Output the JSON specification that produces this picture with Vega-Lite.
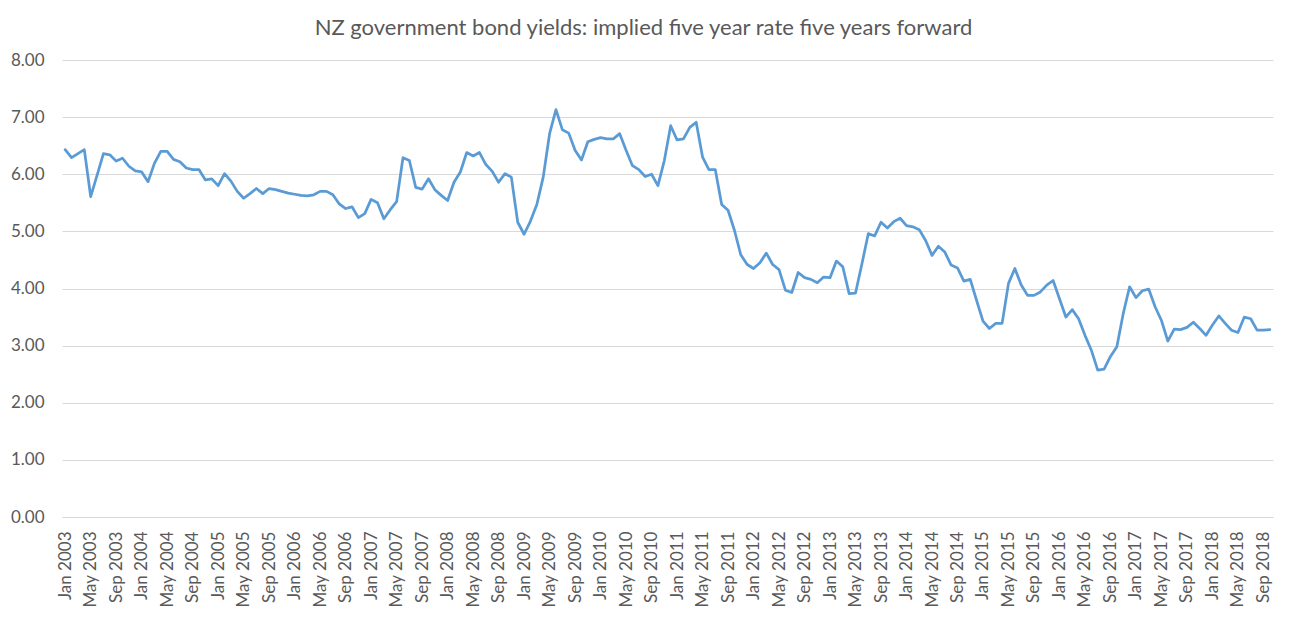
{
  "$schema": "https://vega.github.io/schema/vega-lite/v6.json",
  "width": 1211,
  "height": 457,
  "autosize": {"type": "none"},
  "padding": {"left": 62, "top": 60, "right": 16, "bottom": 106},
  "background": "white",
  "title": {
    "text": "NZ government bond yields: implied five year rate five years forward",
    "font": "Lato",
    "fontSize": 22,
    "fontWeight": "normal",
    "color": "#595959",
    "anchor": "middle",
    "dx": -24,
    "offset": 11
  },
  "data": {
    "values": [
      {"m":"Jan 2003","v":6.43},{"m":"Feb 2003","v":6.29},{"m":"Mar 2003","v":6.36},{"m":"Apr 2003","v":6.43},{"m":"May 2003","v":5.61},{"m":"Jun 2003","v":5.98},{"m":"Jul 2003","v":6.36},{"m":"Aug 2003","v":6.34},{"m":"Sep 2003","v":6.23},{"m":"Oct 2003","v":6.28},{"m":"Nov 2003","v":6.14},{"m":"Dec 2003","v":6.06},
      {"m":"Jan 2004","v":6.04},{"m":"Feb 2004","v":5.87},{"m":"Mar 2004","v":6.19},{"m":"Apr 2004","v":6.40},{"m":"May 2004","v":6.40},{"m":"Jun 2004","v":6.26},{"m":"Jul 2004","v":6.22},{"m":"Aug 2004","v":6.11},{"m":"Sep 2004","v":6.08},{"m":"Oct 2004","v":6.08},{"m":"Nov 2004","v":5.90},{"m":"Dec 2004","v":5.92},
      {"m":"Jan 2005","v":5.80},{"m":"Feb 2005","v":6.01},{"m":"Mar 2005","v":5.88},{"m":"Apr 2005","v":5.70},{"m":"May 2005","v":5.58},{"m":"Jun 2005","v":5.66},{"m":"Jul 2005","v":5.75},{"m":"Aug 2005","v":5.66},{"m":"Sep 2005","v":5.75},{"m":"Oct 2005","v":5.73},{"m":"Nov 2005","v":5.70},{"m":"Dec 2005","v":5.67},
      {"m":"Jan 2006","v":5.65},{"m":"Feb 2006","v":5.63},{"m":"Mar 2006","v":5.62},{"m":"Apr 2006","v":5.64},{"m":"May 2006","v":5.70},{"m":"Jun 2006","v":5.70},{"m":"Jul 2006","v":5.64},{"m":"Aug 2006","v":5.48},{"m":"Sep 2006","v":5.40},{"m":"Oct 2006","v":5.43},{"m":"Nov 2006","v":5.24},{"m":"Dec 2006","v":5.31},
      {"m":"Jan 2007","v":5.56},{"m":"Feb 2007","v":5.50},{"m":"Mar 2007","v":5.22},{"m":"Apr 2007","v":5.38},{"m":"May 2007","v":5.52},{"m":"Jun 2007","v":6.29},{"m":"Jul 2007","v":6.24},{"m":"Aug 2007","v":5.77},{"m":"Sep 2007","v":5.74},{"m":"Oct 2007","v":5.92},{"m":"Nov 2007","v":5.73},{"m":"Dec 2007","v":5.63},
      {"m":"Jan 2008","v":5.54},{"m":"Feb 2008","v":5.86},{"m":"Mar 2008","v":6.04},{"m":"Apr 2008","v":6.38},{"m":"May 2008","v":6.32},{"m":"Jun 2008","v":6.38},{"m":"Jul 2008","v":6.17},{"m":"Aug 2008","v":6.05},{"m":"Sep 2008","v":5.86},{"m":"Oct 2008","v":6.01},{"m":"Nov 2008","v":5.95},{"m":"Dec 2008","v":5.16},
      {"m":"Jan 2009","v":4.95},{"m":"Feb 2009","v":5.18},{"m":"Mar 2009","v":5.47},{"m":"Apr 2009","v":5.95},{"m":"May 2009","v":6.71},{"m":"Jun 2009","v":7.13},{"m":"Jul 2009","v":6.78},{"m":"Aug 2009","v":6.72},{"m":"Sep 2009","v":6.42},{"m":"Oct 2009","v":6.25},{"m":"Nov 2009","v":6.57},{"m":"Dec 2009","v":6.61},
      {"m":"Jan 2010","v":6.64},{"m":"Feb 2010","v":6.62},{"m":"Mar 2010","v":6.62},{"m":"Apr 2010","v":6.71},{"m":"May 2010","v":6.42},{"m":"Jun 2010","v":6.15},{"m":"Jul 2010","v":6.08},{"m":"Aug 2010","v":5.96},{"m":"Sep 2010","v":6.00},{"m":"Oct 2010","v":5.80},{"m":"Nov 2010","v":6.24},{"m":"Dec 2010","v":6.85},
      {"m":"Jan 2011","v":6.60},{"m":"Feb 2011","v":6.62},{"m":"Mar 2011","v":6.82},{"m":"Apr 2011","v":6.91},{"m":"May 2011","v":6.30},{"m":"Jun 2011","v":6.08},{"m":"Jul 2011","v":6.08},{"m":"Aug 2011","v":5.47},{"m":"Sep 2011","v":5.37},{"m":"Oct 2011","v":5.02},{"m":"Nov 2011","v":4.59},{"m":"Dec 2011","v":4.42},
      {"m":"Jan 2012","v":4.35},{"m":"Feb 2012","v":4.45},{"m":"Mar 2012","v":4.62},{"m":"Apr 2012","v":4.42},{"m":"May 2012","v":4.33},{"m":"Jun 2012","v":3.97},{"m":"Jul 2012","v":3.93},{"m":"Aug 2012","v":4.28},{"m":"Sep 2012","v":4.19},{"m":"Oct 2012","v":4.16},{"m":"Nov 2012","v":4.10},{"m":"Dec 2012","v":4.20},
      {"m":"Jan 2013","v":4.19},{"m":"Feb 2013","v":4.48},{"m":"Mar 2013","v":4.38},{"m":"Apr 2013","v":3.91},{"m":"May 2013","v":3.92},{"m":"Jun 2013","v":4.43},{"m":"Jul 2013","v":4.96},{"m":"Aug 2013","v":4.92},{"m":"Sep 2013","v":5.16},{"m":"Oct 2013","v":5.06},{"m":"Nov 2013","v":5.17},{"m":"Dec 2013","v":5.23},
      {"m":"Jan 2014","v":5.10},{"m":"Feb 2014","v":5.08},{"m":"Mar 2014","v":5.03},{"m":"Apr 2014","v":4.84},{"m":"May 2014","v":4.58},{"m":"Jun 2014","v":4.74},{"m":"Jul 2014","v":4.64},{"m":"Aug 2014","v":4.41},{"m":"Sep 2014","v":4.36},{"m":"Oct 2014","v":4.13},{"m":"Nov 2014","v":4.16},{"m":"Dec 2014","v":3.79},
      {"m":"Jan 2015","v":3.43},{"m":"Feb 2015","v":3.30},{"m":"Mar 2015","v":3.39},{"m":"Apr 2015","v":3.39},{"m":"May 2015","v":4.09},{"m":"Jun 2015","v":4.35},{"m":"Jul 2015","v":4.06},{"m":"Aug 2015","v":3.88},{"m":"Sep 2015","v":3.88},{"m":"Oct 2015","v":3.94},{"m":"Nov 2015","v":4.06},{"m":"Dec 2015","v":4.14},
      {"m":"Jan 2016","v":3.82},{"m":"Feb 2016","v":3.50},{"m":"Mar 2016","v":3.63},{"m":"Apr 2016","v":3.47},{"m":"May 2016","v":3.18},{"m":"Jun 2016","v":2.92},{"m":"Jul 2016","v":2.57},{"m":"Aug 2016","v":2.59},{"m":"Sep 2016","v":2.81},{"m":"Oct 2016","v":2.98},{"m":"Nov 2016","v":3.56},{"m":"Dec 2016","v":4.03},
      {"m":"Jan 2017","v":3.84},{"m":"Feb 2017","v":3.96},{"m":"Mar 2017","v":3.99},{"m":"Apr 2017","v":3.68},{"m":"May 2017","v":3.44},{"m":"Jun 2017","v":3.08},{"m":"Jul 2017","v":3.29},{"m":"Aug 2017","v":3.28},{"m":"Sep 2017","v":3.32},{"m":"Oct 2017","v":3.41},{"m":"Nov 2017","v":3.30},{"m":"Dec 2017","v":3.18},
      {"m":"Jan 2018","v":3.36},{"m":"Feb 2018","v":3.52},{"m":"Mar 2018","v":3.39},{"m":"Apr 2018","v":3.27},{"m":"May 2018","v":3.23},{"m":"Jun 2018","v":3.50},{"m":"Jul 2018","v":3.47},{"m":"Aug 2018","v":3.27},{"m":"Sep 2018","v":3.27},{"m":"Oct 2018","v":3.28}
    ]
  },
  "mark": {"type": "line", "color": "#5b9bd5", "strokeWidth": 2.75, "strokeJoin": "round", "strokeCap": "round"},
  "encoding": {
    "x": {
      "field": "m",
      "type": "ordinal",
      "sort": null,
      "scale": {"type": "point", "padding": 0.5},
      "axis": {
        "title": null,
        "values": ["Jan 2003","May 2003","Sep 2003","Jan 2004","May 2004","Sep 2004","Jan 2005","May 2005","Sep 2005","Jan 2006","May 2006","Sep 2006","Jan 2007","May 2007","Sep 2007","Jan 2008","May 2008","Sep 2008","Jan 2009","May 2009","Sep 2009","Jan 2010","May 2010","Sep 2010","Jan 2011","May 2011","Sep 2011","Jan 2012","May 2012","Sep 2012","Jan 2013","May 2013","Sep 2013","Jan 2014","May 2014","Sep 2014","Jan 2015","May 2015","Sep 2015","Jan 2016","May 2016","Sep 2016","Jan 2017","May 2017","Sep 2017","Jan 2018","May 2018","Sep 2018"],
        "labelAngle": 270,
        "labelAlign": "right",
        "labelBaseline": "middle",
        "labelPadding": 14,
        "labelFont": "Lato",
        "labelFontSize": 17,
        "labelColor": "#595959",
        "labelOverlap": false,
        "ticks": false,
        "domain": true,
        "domainColor": "#d9d9d9",
        "domainWidth": 1,
        "grid": false
      }
    },
    "y": {
      "field": "v",
      "type": "quantitative",
      "scale": {"domain": [0, 8], "nice": false, "zero": true},
      "axis": {
        "title": null,
        "values": [0, 1, 2, 3, 4, 5, 6, 7, 8],
        "format": ".2f",
        "labelFont": "Lato",
        "labelFontSize": 17,
        "labelColor": "#595959",
        "labelPadding": 18,
        "ticks": false,
        "domain": false,
        "grid": true,
        "gridColor": "#d9d9d9",
        "gridWidth": 1
      }
    }
  },
  "config": {
    "view": {"stroke": null}
  }
}
